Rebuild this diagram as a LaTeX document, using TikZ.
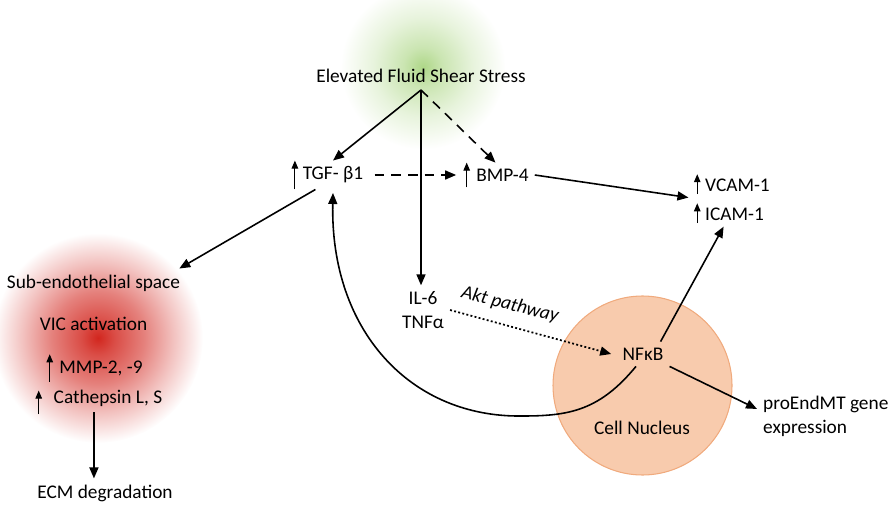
\documentclass[tikz,border=0pt]{standalone}
\usepackage{fontspec}
\setmainfont{Carlito}
\usetikzlibrary{arrows.meta,positioning}

\definecolor{glowred}{RGB}{210,38,30}
\definecolor{glowgreen}{RGB}{160,208,115}
\definecolor{nucfill}{RGB}{248,203,173}
\definecolor{nucedge}{RGB}{240,170,125}

\pgfdeclareradialshading{redglow}{\pgfpoint{0bp}{0bp}}{%
  color(0bp)=(glowred); color(4bp)=(glowred!82!white);
  color(11bp)=(glowred!58!white); color(18bp)=(glowred!28!white);
  color(25bp)=(white); color(50bp)=(white)}
\pgfdeclareradialshading{greenglow}{\pgfpoint{0bp}{0bp}}{%
  color(0bp)=(glowgreen!85!white); color(6bp)=(glowgreen!55!white);
  color(15bp)=(glowgreen!25!white); color(25bp)=(white); color(50bp)=(white)}

\begin{document}
\begin{tikzpicture}[
  font=\fontsize{11}{13.5}\selectfont,
  lbl/.style={align=center},
  ar/.style={-{Triangle[length=2.2mm,width=1.8mm]},line width=0.9pt},
  dashar/.style={ar,dash pattern=on 5.5pt off 4pt},
  dotar/.style={ar,line width=1pt,dash pattern=on 1.1pt off 1.3pt},
  upar/.style={-{Triangle[length=1.6mm,width=1.3mm]},line width=0.6pt}]

\useasboundingbox (0,0) rectangle (17.82,10.10);

% glows and nucleus
\shade[shading=greenglow] (8.46,8.76) circle (1.65);
\shade[shading=redglow] (1.96,3.34) circle (2.1);
\filldraw[fill=nucfill,draw=nucedge,line width=0.6pt] (12.85,2.39) circle (1.79);

\node[lbl] (shear) at (8.42,8.58) {Elevated Fluid Shear Stress};
\coordinate (apex) at (8.42,8.30);

\node[lbl] (tgf) at (6.66,6.60) {TGF- β1};
\node[lbl] (bmp) at (10.05,6.60) {BMP-4};
\node[anchor=west] (vcam) at (13.98,6.40) {VCAM-1};
\node[below=0.08cm of vcam.south west,anchor=north west] (icam) {ICAM-1};

\node[lbl] (sub) at (1.87,4.44) {Sub-endothelial space};
\node[lbl,below=0.26cm of sub] (vic) {VIC activation};
\node[lbl] (mmp) at (2.02,2.74) {MMP-2, -9};
\node[lbl] (cath) at (2.16,2.14) {Cathepsin L, S};
\node[lbl] (ecm) at (2.10,0.24) {ECM degradation};

\node[lbl] (il6) at (8.46,3.90) {IL-6\\TNFα};
\node[font=\fontsize{11}{13.5}\selectfont\itshape,rotate=-14,inner sep=1pt] (akt) at (10.20,4.00) {Akt pathway};
\node[lbl] (nfkb) at (12.86,3.02) {NFκB};
\node[lbl] (nuc) at (12.84,1.54) {Cell Nucleus};
\node[align=left,anchor=west] (proend) at (15.14,1.78) {proEndMT gene\\expression};

% small up arrows
\draw[upar] ([xshift=-1pt]tgf.south west) -- ([xshift=-1pt]tgf.north west);
\draw[upar] ([xshift=-2pt]bmp.south west) -- ([xshift=-2pt]bmp.north west);
\draw[upar] ([xshift=-1pt,yshift=2pt]vcam.south west) -- ([xshift=-1pt,yshift=-1pt]vcam.north west);
\draw[upar] ([xshift=-1pt,yshift=2pt]icam.south west) -- ([xshift=-1pt,yshift=-1pt]icam.north west);
\draw[upar] ([xshift=-2pt]mmp.south west) -- ([xshift=-2pt]mmp.north west);
\draw[upar] ([xshift=-5pt,yshift=-1pt]cath.south west) -- ([xshift=-5pt,yshift=-4pt]cath.north west);

% connectors
\draw[ar] (apex) -- (tgf.north);
\draw[dashar] (apex) -- ([xshift=-4pt]bmp.north);
\draw[ar] (apex) -- (apex |- il6.north);
\draw[dashar] ([xshift=3pt]tgf.east) -- ([xshift=-8pt]bmp.west);
\draw[ar] (bmp.east) -- ([xshift=-6pt]vcam.south west);
\draw[ar] ([xshift=-10pt]tgf.south) -- ([xshift=-4pt]sub.north east);
\draw[ar] ([xshift=-8pt]cath.south) -- ([xshift=-8pt]cath.south |- ecm.north);
\draw[dotar] (il6.east) -- ([xshift=-3pt]nfkb.west);
\draw[ar] ([xshift=10pt]nfkb.north) -- ([xshift=14pt]icam.south west);
\draw[ar] (nfkb.south east) -- ([yshift=4pt]proend.west);
\draw[ar] ([xshift=-4pt]nfkb.south) .. controls (12.0,1.90) and (11.4,1.78) .. (10.46,1.78)
  .. controls (8.20,1.74) and (6.60,3.50) .. ([yshift=-2pt]tgf.south);
\end{tikzpicture}
\end{document}
